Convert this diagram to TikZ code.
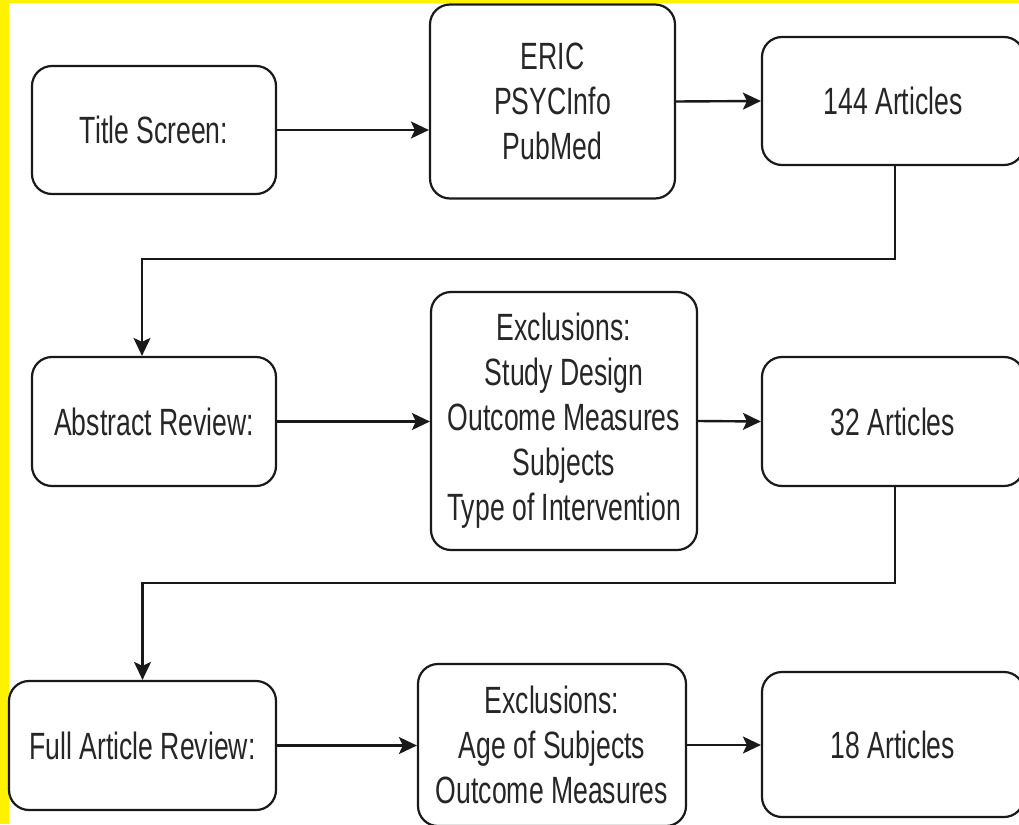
\documentclass[tikz,border=0pt]{standalone}
\usepackage{fontspec}
\setmainfont{Liberation Sans}[FakeStretch=0.7]
\usetikzlibrary{arrows.meta}
\begin{document}
\begin{tikzpicture}[x=1pt,y=-1pt,
  box/.style={draw=black!90, line width=2.2pt, rounded corners=20pt, fill=white,
    align=center, inner sep=0pt, font=\fontsize{38}{45}\selectfont, text=black!85},
  conn/.style={draw=black!90, line width=2.4pt,
    -{Stealth[length=18pt,width=17pt,inset=4pt]}}]
\path[use as bounding box] (0,0) rectangle (1019,824);
\fill[yellow] (0,0) rectangle (1019,824);
\fill[white] (9,3) rectangle (1019,824);
\clip (0,0) rectangle (1019,824);

\node[box, minimum width=244pt, minimum height=128pt] (title) at (154,130) {Title Screen:};
\node[box, minimum width=245pt, minimum height=194pt] (db) at (552.5,101.5) {ERIC\\PSYCInfo\\PubMed};
\node[box, minimum width=262pt, minimum height=128pt] (a144) at (893,101) {144 Articles};

\node[box, minimum width=244pt, minimum height=129pt] (abs) at (154,421.5) {Abstract Review:};
\node[box, minimum width=266pt, minimum height=258pt] (ex2) at (564,421) {Exclusions:\\Study Design\\Outcome Measures\\Subjects\\Type of Intervention};
\node[box, minimum width=262pt, minimum height=129pt] (a32) at (893,421.5) {32 Articles};

\node[box, minimum width=267pt, minimum height=129pt] (full) at (142.5,745.5) {Full Article Review:};
\node[box, minimum width=268pt, minimum height=162pt] (ex3) at (552,745) {Exclusions:\\Age of Subjects\\Outcome Measures};
\node[box, minimum width=262pt, minimum height=145pt] (a18) at (893,744.5) {18 Articles};

\coordinate (b1) at (895,259);
\coordinate (b2) at (895,583);

\draw[conn] (title.east) -- (title.east -| db.west);
\draw[conn] (db.east) -- (a144.west);
\draw[conn] (a144.south -| b1) -- (b1) -| ([xshift=-12pt]abs.north);

\draw[conn] (abs.east) -- (abs.east -| ex2.west);
\draw[conn] (ex2.east) -- (a32.west);
\draw[conn] (a32.south -| b2) -- (b2) -| (full.north);

\draw[conn] (full.east) -- (full.east -| ex3.west);
\draw[conn] (ex3.east) -- (ex3.east -| a18.west);
\end{tikzpicture}
\end{document}
